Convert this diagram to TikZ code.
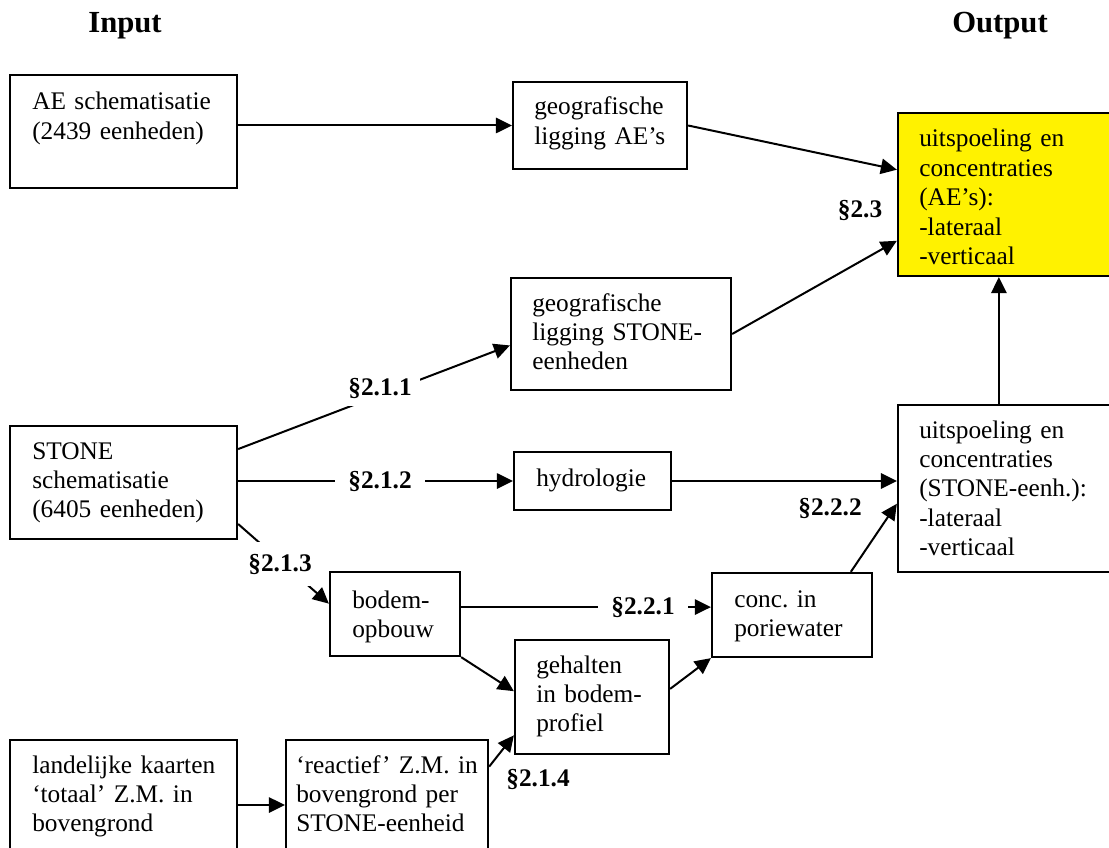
\documentclass[tikz,border=0pt]{standalone}
\usepackage{fontspec}
\setmainfont{Liberation Serif}
\usetikzlibrary{arrows.meta,calc,fit}
\newcommand{\bodyfont}{\fontsize{19pt}{22.1pt}\selectfont\frenchspacing}
\newcommand{\titlefont}{\fontsize{23pt}{27pt}\selectfont\bfseries}
\newcommand{\lblfont}{\fontsize{19pt}{22pt}\selectfont\bfseries}
\begin{document}
\begin{tikzpicture}[x=0.75pt,y=-0.75pt,
  box/.style={draw, line width=1.7pt, inner sep=0pt},
  arr/.style={line width=1.5pt, -{Triangle[length=12pt,width=11.5pt]}},
  txt/.style={anchor=base west, inner sep=0pt, text width=230pt, align=left, font=\bodyfont},
  lbl/.style={font=\lblfont, inner sep=0pt},
]
\useasboundingbox (0,0) rectangle (1109,848);
\clip (0,0) rectangle (1109,848);

% titles
\node[font=\titlefont, anchor=base] (tin) at (125,33) {Input};
\node[font=\titlefont, anchor=base] (tout) at (1000,33) {Output};

% boxes
\node[box, fit={(10,75) (237,188)}] (ae) {};
\node[box, fit={(513,82) (687,169)}] (geo1) {};
\node[box, fill=yellow, fit={(898,113) (1120,276)}] (yellow) {};
\node[box, fit={(511,278) (731,390)}] (geo2) {};
\node[box, fit={(10,426) (237,539)}] (stone) {};
\node[box, fit={(514,452) (671,510)}] (hyd) {};
\node[box, fit={(898,405) (1120,572)}] (uit2) {};
\node[box, fit={(330,572) (460,656)}] (bod) {};
\node[box, fit={(712,573) (872,657)}] (conc) {};
\node[box, fit={(515,640) (669,754)}] (geh) {};
\node[box, fit={(10,740) (237,870)}] (land) {};
\node[box, fit={(286,740) (488,870)}] (react) {};

% texts
\node[txt] (ae-t) at (32,110) {AE schematisatie\\(2439 eenheden)};
\node[txt] (geo1-t) at (534,115) {geografische\\ligging AE’s};
\node[txt] (yel-t) at (919,147) {uitspoeling en\\concentraties\\(AE’s):\\-lateraal\\-verticaal};
\node[txt] (geo2-t) at (532,311) {geografische\\ligging STONE-\\eenheden};
\node[txt] (stone-t) at (32,459) {STONE\\schematisatie\\(6405 eenheden)};
\node[txt] (hyd-t) at (536,486) {hydrologie};
\node[txt] (uit2-t) at (919,438) {uitspoeling en\\concentraties\\(STONE-eenh.):\\-lateraal\\-verticaal};
\node[txt] (bod-t) at (352,608) {bodem-\\opbouw};
\node[txt] (conc-t) at (734,607) {conc. in\\poriewater};
\node[txt] (geh-t) at (536,673) {gehalten\\in bodem-\\profiel};
\node[txt] (land-t) at (32,773) {landelijke kaarten\\‘totaal’ Z.M. in\\bovengrond};
\node[txt] (react-t) at (296,773) {‘reactief’ Z.M. in\\bovengrond per\\STONE-eenheid};

% connectors
\draw[arr] (ae.east |- geo1.west) -- (geo1.west);
\draw[arr] (geo1.east) -- ($(yellow.north west)!0.35!(yellow.south west)$);
\draw[arr] (geo2.east) -- ($(yellow.north west)!0.78!(yellow.south west)$);
\draw[arr] ($(stone.north east)!0.21!(stone.south east)$) -- ($(geo2.north west)!0.6!(geo2.south west)$);
\draw[arr] (stone.east |- hyd.west) -- (hyd.west);
\draw[arr] (hyd.east) -- (uit2.west |- hyd.east);
\coordinate (vup) at ($(uit2.north west)+(102,0)$);
\draw[arr] (vup) -- (vup |- yellow.south);
\draw[arr] ($(conc.north west)!0.8625!(conc.north east)$) -- ($(uit2.north west)!0.59!(uit2.south west)$);
\draw[arr] ($(stone.north east)!0.86!(stone.south east)$) -- ($(bod.north west)!0.38!(bod.south west)$);
\coordinate (b1) at ($(bod.north east)!0.42!(bod.south east)$);
\draw[arr] (b1) -- (b1 -| conc.west);
\draw[arr] (bod.south east) -- ($(geh.north west)!0.45!(geh.south west)$);
\draw[arr] ($(geh.north east)!0.43!(geh.south east)$) -- (conc.south west);
\draw[arr] (land.east) -- (react.west);
\draw[arr] ($(react.north east)!0.21!(react.south east)$) -- ($(geh.north west)!0.83!(geh.south west)$);

% labels
\node[lbl, fill=white, inner xsep=6pt, inner ysep=6pt] (s211) at (380,388) {§2.1.1};
\node[lbl, fill=white, inner xsep=10pt, inner ysep=3pt] (s212) at (380,481) {§2.1.2};
\node[lbl, fill=white, inner xsep=2pt, inner ysep=9pt] (s213) at (280,564) {§2.1.3};
\node[lbl, fill=white, inner xsep=10pt, inner ysep=3pt] (s221) at (643,607) {§2.2.1};
\node[lbl] (s214) at (538,779) {§2.1.4};
\node[lbl] (s23) at (860,210) {§2.3};
\node[lbl] (s222) at (830,508) {§2.2.2};
\end{tikzpicture}
\end{document}
